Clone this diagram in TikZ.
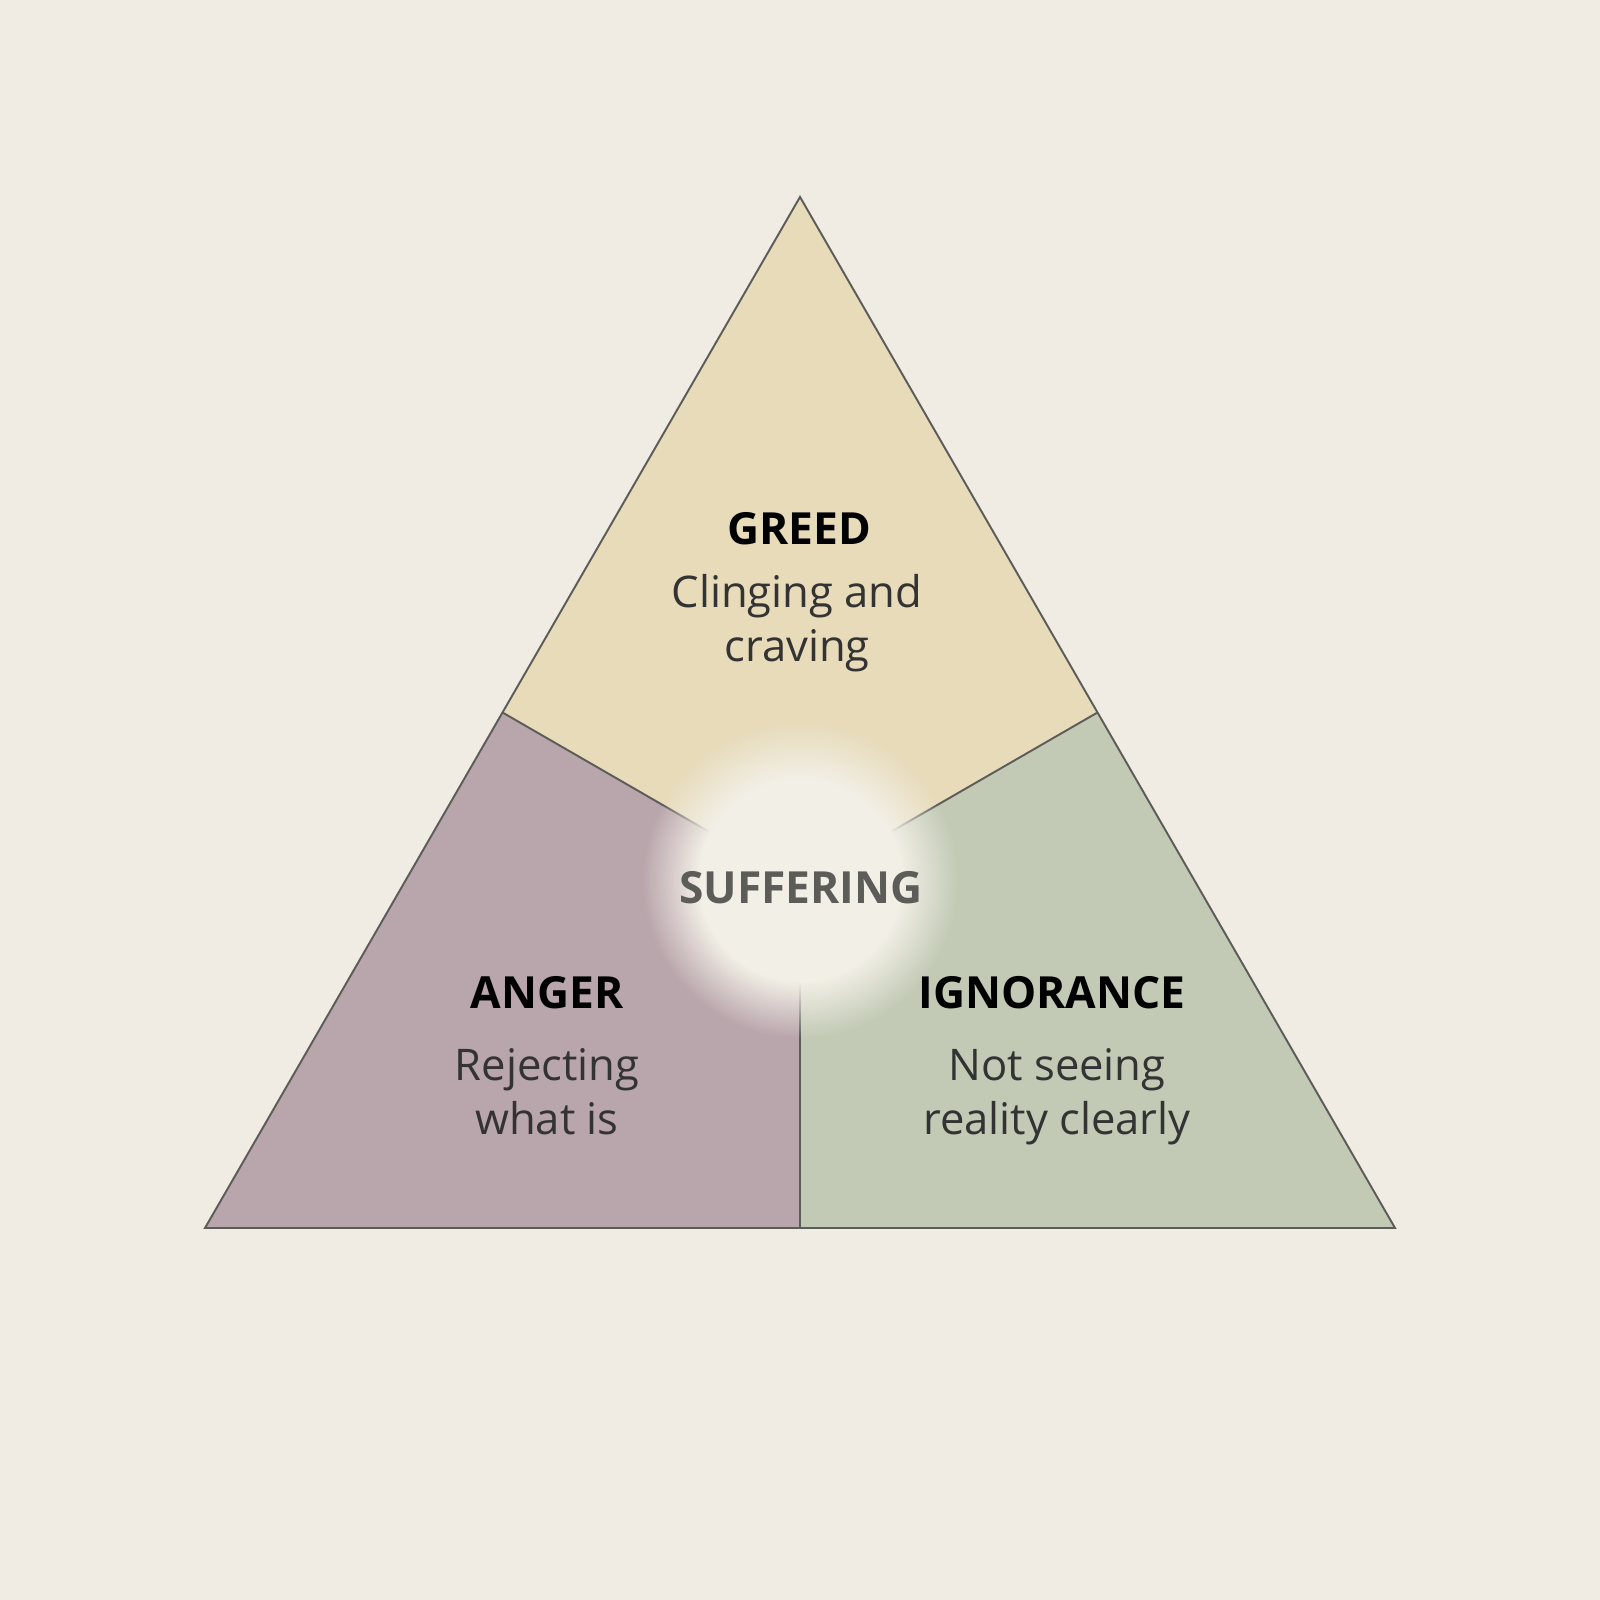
\documentclass[tikz,border=0pt]{standalone}
\usepackage{fontspec}
\setmainfont{Open Sans}
\usetikzlibrary{fadings,positioning,calc}
\definecolor{paper}{HTML}{F0ECE4}
\definecolor{greedfill}{HTML}{E7DBBA}
\definecolor{angerfill}{HTML}{B9A5AC}
\definecolor{ignorfill}{HTML}{C2CAB5}
\definecolor{glowfill}{HTML}{F2EFE6}
\definecolor{rim}{HTML}{5C5C58}
\pgfdeclareradialshading{glowshade}{\pgfpoint{0cm}{0cm}}{color(0bp)=(transparent!0);
  color(16bp)=(transparent!0); color(25bp)=(transparent!100); color(50bp)=(transparent!100)}
\pgfdeclarefading{glowfade}{\pgfuseshading{glowshade}}
\tikzstyle{title}=[font=\bfseries\fontsize{12.6}{15}\selectfont, text=black]
\tikzstyle{body}=[font=\fontsize{12.4}{15.3}\selectfont, align=center, text=black!80]
\tikzstyle{edge}=[draw=rim, line width=0.55pt]

\begin{document}
\begin{tikzpicture}
  \fill[paper] (0,0) rectangle (16,16);
  \useasboundingbox (0,0) rectangle (16,16);
  \coordinate (top)   at (8,14.03);
  \coordinate (left)  at (2.05,3.72);
  \coordinate (right) at (13.95,3.72);
  \coordinate (mid)   at (8,7.157);
  \coordinate (ml) at ($(top)!0.5!(left)$);
  \coordinate (mr) at ($(top)!0.5!(right)$);
  \coordinate (mb) at ($(left)!0.5!(right)$);

  \fill[greedfill] (top) -- (mr) -- (mid) -- (ml) -- cycle;
  \fill[angerfill] (ml) -- (mid) -- (mb) -- (left) -- cycle;
  \fill[ignorfill] (mr) -- (right) -- (mb) -- (mid) -- cycle;
  \draw[edge] (ml) -- (mid) (mr) -- (mid) (mb) -- (mid);

  \fill[glowfill, path fading=glowfade] (8,7.2) circle (1.58);
  \draw[edge, line join=miter] (top) -- (right) -- (left) -- cycle;

  \node[title] (greed) at (7.99,10.71) {GREED};
  \node[body] (greedtxt) at (7.97,9.77) {Clinging and\\craving};
  \node[title] (anger) at (5.47,6.07) {ANGER};
  \node[body] (angertxt) at (5.47,5.08) {Rejecting\\what is};
  \node[title] (ignor) at (10.52,6.07) {IGNORANCE};
  \node[body] (ignortxt) at (10.57,5.03) {Not seeing\\reality clearly};
  \node[title, text=rim, font=\bfseries\fontsize{12.6}{15}\selectfont] (suffer) at (8.01,7.12) {SUFFERING};
\end{tikzpicture}
\end{document}
